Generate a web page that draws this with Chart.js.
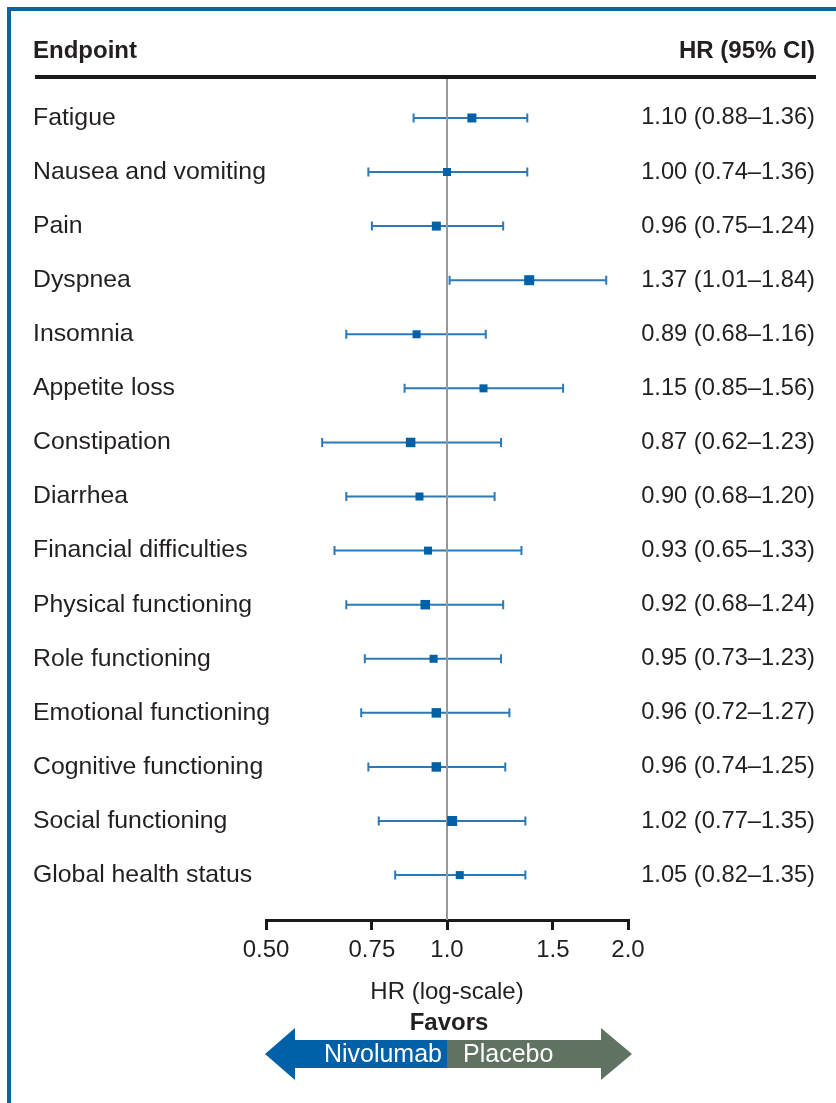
<!DOCTYPE html>
<html>
<head>
<meta charset="utf-8">
<title>HR forest plot</title>
<script src="https://cdn.jsdelivr.net/npm/chart.js@4.4.1/dist/chart.umd.min.js"></script>
<style>
  html, body { margin: 0; padding: 0; background: #ffffff; }
  #wrap { position: relative; width: 836px; height: 1103px; }
  canvas { display: block; }
</style>
</head>
<body>
<div id="wrap"><canvas id="forest" width="836" height="1103"></canvas></div>
<script>
// Endpoints, top to bottom
const endpoints = [
  'Fatigue',
  'Nausea and vomiting',
  'Pain',
  'Dyspnea',
  'Insomnia',
  'Appetite loss',
  'Constipation',
  'Diarrhea',
  'Financial difficulties',
  'Physical functioning',
  'Role functioning',
  'Emotional functioning',
  'Cognitive functioning',
  'Social functioning',
  'Global health status'
];

// Hazard ratios with 95% confidence limits
const hr      = [1.10, 1.00, 0.96, 1.37, 0.89, 1.15, 0.87, 0.90, 0.93, 0.92, 0.95, 0.96, 0.96, 1.02, 1.05];
const ciLower = [0.88, 0.74, 0.75, 1.01, 0.68, 0.85, 0.62, 0.68, 0.65, 0.68, 0.73, 0.72, 0.74, 0.77, 0.82];
const ciUpper = [1.36, 1.36, 1.24, 1.84, 1.16, 1.56, 1.23, 1.20, 1.33, 1.24, 1.23, 1.27, 1.25, 1.35, 1.35];

// Log-scale axis ticks
const xTickValues = [0.5, 0.75, 1.0, 1.5, 2.0];
const xTickLabels = ['0.50', '0.75', '1.0', '1.5', '2.0'];

// Text in the right-hand column, built from the numbers above
const ciLabels = hr.map((v, i) =>
  v.toFixed(2) + ' (' + ciLower[i].toFixed(2) + '\u2013' + ciUpper[i].toFixed(2) + ')');

// ---- styling ----
const FONT = "'Liberation Sans', Arial, Helvetica, sans-serif";
const TEXT = '#231f20';
const BLUE = '#0061a8';
const WHISKER = '#2c79b6';
const FRAME = '#0b63a3';
const PLACEBO = '#607262';

// square marker side lengths (px) per row
const markerSide = [9, 8, 9, 10, 8, 8, 9.5, 8, 8, 9.5, 8, 9.5, 9.5, 10, 8];

const Y_MIN = -0.72, Y_MAX = 14.83;
const LABEL_X = 33;       // left edge of the endpoint names
const LEFT_AXIS_W = 233;  // endpoint column width up to the plot area

const points = hr.map((v, i) => ({ x: v, y: i }));

// Confidence interval whiskers, drawn under the reference line and markers
const whiskers = {
  id: 'whiskers',
  beforeDatasetsDraw(chart) {
    const { ctx, scales: { x, y } } = chart;
    ctx.save();
    ctx.strokeStyle = WHISKER;
    ctx.lineWidth = 2;
    for (let i = 0; i < hr.length; i++) {
      const py = y.getPixelForValue(i);
      const x0 = x.getPixelForValue(ciLower[i]);
      const x1 = x.getPixelForValue(ciUpper[i]);
      ctx.beginPath();
      ctx.moveTo(x0, py); ctx.lineTo(x1, py);
      ctx.moveTo(x0, py - 4.5); ctx.lineTo(x0, py + 4.5);
      ctx.moveTo(x1, py - 4.5); ctx.lineTo(x1, py + 4.5);
      ctx.stroke();
    }
    ctx.restore();
  }
};

// Frame, column headings, header rule and the "Favors" arrow
const decorations = {
  id: 'decorations',
  beforeDraw(chart) {
    const { ctx, width, height } = chart;
    ctx.save();
    ctx.fillStyle = '#ffffff';
    ctx.fillRect(0, 0, width, height);
    // blue box frame
    ctx.fillStyle = FRAME;
    ctx.fillRect(7, 7, width - 7, 4);
    ctx.fillRect(7, 7, 4, height - 7);
    // column headings
    ctx.fillStyle = TEXT;
    ctx.font = 'bold 24px ' + FONT;
    ctx.textBaseline = 'middle';
    ctx.textAlign = 'left';
    ctx.fillText('Endpoint', 33, 51);
    ctx.textAlign = 'right';
    ctx.fillText('HR (95% CI)', 815, 51);
    // heading rule
    ctx.fillStyle = '#1a1a1a';
    ctx.fillRect(35, 75, 781, 4);
    ctx.restore();
  },
  afterDraw(chart) {
    const { ctx, scales: { x } } = chart;
    const mid = x.getPixelForValue(1);
    const left = 265, right = 632, headL = 295, headR = 601;
    const cy = 1054, bodyH = 14, headH = 26;
    ctx.save();
    ctx.fillStyle = TEXT;
    ctx.font = 'bold 24px ' + FONT;
    ctx.textAlign = 'center';
    ctx.textBaseline = 'middle';
    ctx.fillText('Favors', 449, 1023);
    // left half
    ctx.fillStyle = BLUE;
    ctx.beginPath();
    ctx.moveTo(left, cy);
    ctx.lineTo(headL, cy - headH);
    ctx.lineTo(headL, cy - bodyH);
    ctx.lineTo(mid, cy - bodyH);
    ctx.lineTo(mid, cy + bodyH);
    ctx.lineTo(headL, cy + bodyH);
    ctx.lineTo(headL, cy + headH);
    ctx.closePath();
    ctx.fill();
    // right half
    ctx.fillStyle = PLACEBO;
    ctx.beginPath();
    ctx.moveTo(right, cy);
    ctx.lineTo(headR, cy - headH);
    ctx.lineTo(headR, cy - bodyH);
    ctx.lineTo(mid, cy - bodyH);
    ctx.lineTo(mid, cy + bodyH);
    ctx.lineTo(headR, cy + bodyH);
    ctx.lineTo(headR, cy + headH);
    ctx.closePath();
    ctx.fill();
    ctx.fillStyle = '#ffffff';
    ctx.font = '25px ' + FONT;
    ctx.textAlign = 'right';
    ctx.fillText('Nivolumab', mid - 5, cy + 1);
    ctx.textAlign = 'left';
    ctx.fillText('Placebo', mid + 16, cy + 1);
    ctx.restore();
  }
};

new Chart(document.getElementById('forest'), {
  type: 'scatter',
  data: {
    datasets: [
      {
        label: 'HR',
        data: points,
        yAxisID: 'y',
        order: 1,
        pointStyle: 'rect',
        pointRadius: markerSide.map(s => s / (2 * Math.SQRT1_2)),
        pointBackgroundColor: BLUE,
        pointBorderWidth: 0
      },
      {
        type: 'line',
        label: 'No effect',
        data: [{ x: 1, y: Y_MIN }, { x: 1, y: Y_MAX }],
        yAxisID: 'y',
        order: 2,
        showLine: true,
        borderColor: '#999999',
        borderWidth: 2,
        pointRadius: 0
      }
    ]
  },
  options: {
    responsive: false,
    animation: false,
    devicePixelRatio: 1,
    layout: { padding: { top: 79, left: LABEL_X, right: 21, bottom: 0 } },
    plugins: { legend: { display: false }, tooltip: { enabled: false } },
    scales: {
      x: {
        type: 'logarithmic',
        min: 0.5,
        max: 2,
        afterBuildTicks: s => { s.ticks = xTickValues.map(v => ({ value: v })); },
        afterFit: s => { s.height = 183; },
        ticks: {
          callback: (v, i) => xTickLabels[i],
          color: TEXT,
          font: { family: FONT, size: 24 },
          padding: 6,
          maxRotation: 0,
          autoSkip: false
        },
        grid: { drawOnChartArea: false, drawTicks: true, tickLength: 10, color: '#1a1a1a', lineWidth: 3 },
        border: { display: true, color: '#1a1a1a', width: 3 },
        title: {
          display: true,
          text: 'HR (log-scale)',
          color: TEXT,
          font: { family: FONT, size: 24 },
          padding: { top: 4, bottom: 96 }
        }
      },
      y: {
        type: 'linear',
        position: 'left',
        reverse: true,
        min: Y_MIN,
        max: Y_MAX,
        afterBuildTicks: s => { s.ticks = endpoints.map((_, i) => ({ value: i })); },
        afterFit: s => { s.width = LEFT_AXIS_W; },
        ticks: {
          callback: v => endpoints[v],
          // mirrored so long names may run past the axis box without clipping
          mirror: true,
          crossAlign: 'near',
          padding: -LEFT_AXIS_W,
          color: TEXT,
          font: { family: FONT, size: 24.8 },
          autoSkip: false
        },
        grid: { display: false },
        border: { display: false }
      },
      y2: {
        type: 'linear',
        position: 'right',
        reverse: true,
        min: Y_MIN,
        max: Y_MAX,
        afterBuildTicks: s => { s.ticks = ciLabels.map((_, i) => ({ value: i })); },
        afterFit: s => { s.width = 187; },
        ticks: {
          callback: v => ciLabels[v],
          crossAlign: 'far',
          color: TEXT,
          font: { family: FONT, size: 23.7 },
          autoSkip: false
        },
        grid: { display: false },
        border: { display: false }
      }
    }
  },
  plugins: [whiskers, decorations]
});
</script>
</body>
</html>
